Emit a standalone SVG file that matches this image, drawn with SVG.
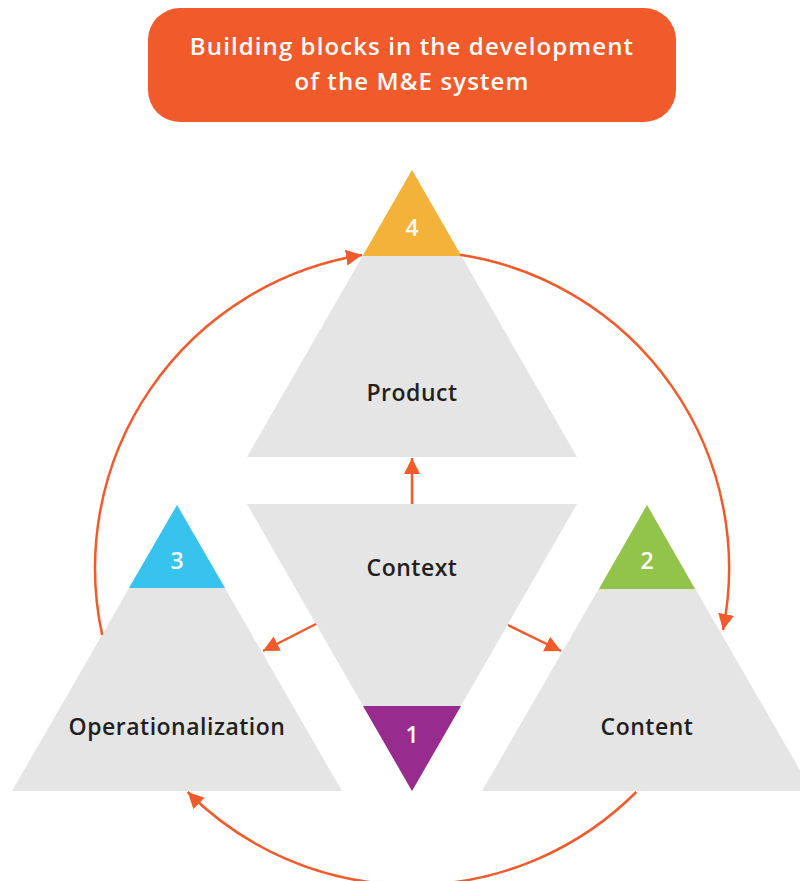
<svg xmlns="http://www.w3.org/2000/svg" width="800" height="881" viewBox="0 0 800 881">
<style>
.tri{fill:#E4E5E4}
.lbl{font-family:"Open Sans","Liberation Sans",sans-serif;font-weight:600;font-size:23px;letter-spacing:0.5px;fill:#231F20;text-anchor:middle}
.num{font-family:"Open Sans","Liberation Sans",sans-serif;font-weight:600;font-size:23px;fill:#FFFFFF;text-anchor:middle}
.title{font-family:"Open Sans","Liberation Sans",sans-serif;font-weight:600;font-size:24px;letter-spacing:1.1px;fill:#FFFFFF;text-anchor:middle}
.con{fill:none;stroke:#F15A2B;stroke-width:2.5}
</style>
<defs>
<marker id="ah" markerUnits="userSpaceOnUse" markerWidth="18" markerHeight="18" refX="16" refY="8" orient="auto">
<path d="M0,0 L16,8 L0,16 Z" fill="#F15A2B"/>
</marker>
</defs>
<g id="title">
<rect x="148" y="8" width="528" height="114" rx="32" fill="#F15A2B"/>
<text class="title" x="412" y="55">Building blocks in the development</text>
<text class="title" x="412" y="90">of the M&amp;E system</text>
</g>
<g id="product">
<polygon class="tri" points="412,170 577,457 247,457"/>
<polygon points="412,170 461.4,256 362.6,256" fill="#F3B23A"/>
<text class="num" x="412" y="236">4</text>
<text class="lbl" x="412" y="401">Product</text>
</g>
<g id="context">
<polygon class="tri" points="247,504 577,504 412,791"/>
<polygon points="363,706 461,706 412,791" fill="#972B8E"/>
<text class="num" x="412" y="743">1</text>
<text class="lbl" x="412" y="576">Context</text>
</g>
<g id="operationalization">
<polygon class="tri" points="177,505 342,791 12,791"/>
<polygon points="177,505 225,588 129,588" fill="#37C3EE"/>
<text class="num" x="177" y="569">3</text>
<text class="lbl" x="177" y="735">Operationalization</text>
</g>
<g id="content">
<polygon class="tri" points="647,505 812,791 482,791"/>
<polygon points="647,505 695,589 599,589" fill="#92C44A"/>
<text class="num" x="647" y="569">2</text>
<text class="lbl" x="647" y="735">Content</text>
</g>
<g id="connectors">
<path class="con" d="M412,504 L412,458" marker-end="url(#ah)"/>
<path class="con" d="M316,624 L263,651" marker-end="url(#ah)"/>
<path class="con" d="M508,625 L561,651" marker-end="url(#ah)"/>
<path class="con" d="M460,254.7 A317,317 0 0 1 723,630" marker-end="url(#ah)"/>
<path class="con" d="M636.3,792 A317,317 0 0 1 187.7,792" marker-end="url(#ah)"/>
<path class="con" d="M102.2,635 A317,317 0 0 1 362,255" marker-end="url(#ah)"/>
</g>
</svg>
